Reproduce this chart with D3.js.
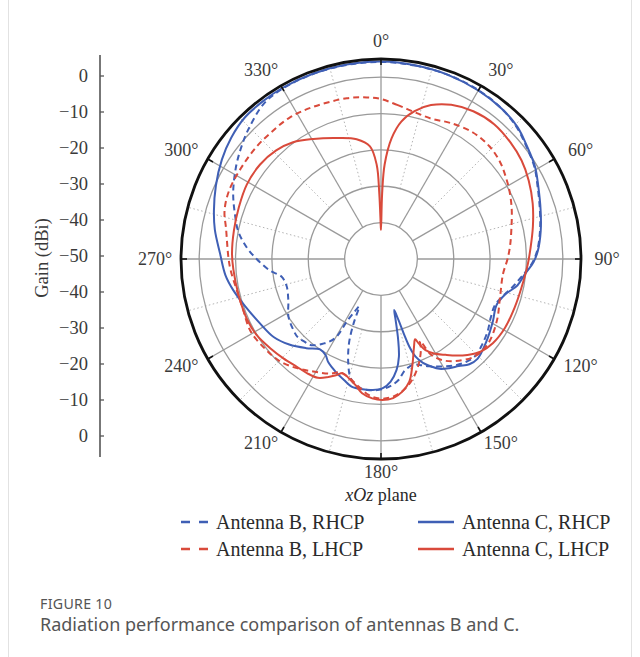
<!DOCTYPE html>
<html>
<head>
<meta charset="utf-8">
<script src="https://cdn.jsdelivr.net/npm/d3@7"></script>
<style>
  html, body { margin: 0; padding: 0; background: #fff; }
  svg { display: block; }
</style>
</head>
<body>
<svg id="chart" width="640" height="657"></svg>
<script>
// ---------- data (angle in degrees, gain in dBi) ----------
const angleLabels = [0, 30, 60, 90, 120, 150, 180, 210, 240, 270, 300, 330];
const ringGains = [-40, -30, -20, -10, 0];
const gainTickLabels = ["0", "\u221210", "\u221220", "\u221230", "\u221240", "\u221250", "\u221240", "\u221230", "\u221220", "\u221210", "0"];

const antCRhcp = [[0,4.3],[10,4.1],[20,3.9],[30,3.5],[39,3.0],[46,2.2],[52,0.8],[59,-0.6],[65,-2.3],[73,-4.1],[80,-5.4],[87,-6.8],[91,-8],[96,-10.2],[101,-11.8],[106,-14.5],[112,-15.8],[119,-14.8],[128,-13.2],[136,-11.8],[140,-12.2],[144,-13.6],[148,-14.6],[152,-15.8],[155,-17.4],[158,-19.2],[160.5,-21.5],[162,-24.5],[163,-28.5],[164,-32.5],[165.5,-35.5],[166.5,-32.8],[168,-27.3],[169.6,-22.7],[172,-19.2],[175.5,-16.2],[179.4,-14.4],[184,-13.9],[188,-13.8],[193,-14],[197,-15.2],[202,-16.6],[207,-18.1],[210,-19.5],[214,-20],[220,-18],[227,-15.5],[234,-13.5],[242,-12.3],[251,-10.4],[258,-8.5],[264,-7],[272,-5.7],[280,-3.6],[286,-2.2],[294,-0.3],[302,1.6],[309,3.0],[316,4.0],[323,4.2],[330,4.3],[340,4.3],[350,4.3]];

const antBRhcp = [[0,4.2],[10,4.0],[20,3.9],[30,3.6],[39,3.0],[46,2.0],[52,0.6],[59,-0.8],[65,-2.5],[73,-4.3],[80,-5.6],[87,-7],[92,-8.6],[97,-11],[102,-13],[107,-15],[112,-16.2],[118,-15.8],[124,-14.6],[130,-13.6],[136,-12.8],[141,-13.4],[146,-14.6],[151,-16.2],[156,-17.7],[160,-19],[163,-19.6],[166,-19.2],[168.5,-18.4],[171.5,-16.5],[175.6,-15],[179.4,-14.2],[185,-13.8],[190.5,-14.3],[194.3,-16.2],[197.4,-19.9],[200.8,-25.2],[203,-30.6],[204.8,-35.6],[206.5,-34],[208.7,-30.4],[210,-25],[214,-22],[219,-19.5],[223,-19],[227,-18.6],[231,-19],[238,-20],[246,-22.1],[254,-23],[260,-22.2],[264,-19.3],[270,-15.8],[275,-12.9],[281,-10],[287,-8],[294,-5.5],[302,-2.9],[308,-1],[314,0.9],[323,3.5],[330,4.1],[340,4.2],[350,4.2]];

const antBLhcp = [[0,-6],[6,-7.4],[13,-8.6],[20,-9],[27,-8],[36,-7],[44,-7],[51,-7.8],[57,-9],[62,-10],[69,-11.5],[77,-13.2],[84,-14.3],[90,-15.2],[97,-16.2],[108,-15.6],[118,-13.9],[128,-12.5],[136,-12.8],[144,-15.3],[149,-17.6],[152.5,-20.5],[154.5,-25],[156,-23],[160,-19.5],[165,-16],[170,-13.5],[175,-12],[180,-11.6],[185,-12.4],[190,-14.4],[195,-16.2],[200,-16.8],[204,-15.5],[211,-13.9],[218,-12],[225,-10.4],[232,-9.7],[241,-9],[250,-9.6],[258,-9.4],[266,-8.5],[271,-8],[281,-6.6],[287,-5.0],[294,-4.2],[303,-4.1],[312,-3.9],[319,-3.9],[327,-3.7],[336,-4.2],[348,-4.8],[355,-5.4]];

const antCLhcp = [[0,-42],[1,-32],[2.2,-24],[5,-16.7],[8.4,-11.8],[12.8,-8.3],[18,-5.5],[24.5,-3.4],[32,-2.1],[40,-1.6],[48,-2.1],[55,-2.8],[62,-4],[70,-5.6],[78,-7.3],[86,-8.8],[92,-9.6],[102,-10.6],[110,-10.9],[119,-11],[127,-11.5],[133,-12.6],[138,-14.5],[142,-16.3],[146,-18.2],[150.7,-20.2],[154,-22.1],[156,-24.6],[157,-26],[159.4,-24.2],[163.8,-19.2],[167,-15.4],[171,-13],[175,-11.6],[179.5,-11.2],[183.6,-11.6],[188,-12.7],[191.4,-14.6],[195,-16],[198.5,-16.9],[201,-15.8],[204,-14.5],[208,-13],[213,-12.6],[218,-12.4],[224.5,-11.7],[231,-10.9],[238.6,-9.9],[246,-9.6],[256,-9.6],[266,-9.3],[272,-9],[281,-8.8],[290,-8.4],[299,-7.8],[308,-7.8],[316,-8.5],[323,-9.8],[330.6,-12.1],[340,-14.6],[348.5,-16.4],[354.4,-18.9],[357.4,-24.1],[358.5,-32],[359.6,-41]];

const seriesNames = ["Antenna B, RHCP", "Antenna C, RHCP", "Antenna B, LHCP", "Antenna C, LHCP"];
const seriesData = [antBRhcp, antCRhcp, antBLhcp, antCLhcp];
const seriesColors = ["#3f5fb5", "#3f5fb5", "#d94a3b", "#d94a3b"];
const seriesDashed = [true, false, true, false];

// ---------- layout ----------
const svg = d3.select("#chart");
const cx = 381, cy = 259, outerR = 200;
const r = d3.scaleLinear().domain([-50, 5]).range([0, outerR]).clamp(true);
const rad = d => d * Math.PI / 180;
const serif = "'Liberation Serif', 'Times New Roman', serif";
const sans = "'Noto Sans', 'Open Sans', sans-serif";

// card border
svg.append("rect").attr("x", 8.5).attr("y", -2).attr("width", 623).attr("height", 662)
  .attr("fill", "none").attr("stroke", "#e2e2e2");

const g = svg.append("g").attr("transform", `translate(${cx},${cy})`);

// dotted spokes (odd multiples of 15°)
const dotted = d3.range(15, 360, 30);
g.selectAll(".dspoke").data(dotted).join("line")
  .attr("x1", d => r(-30) * Math.sin(rad(d))).attr("y1", d => -r(-30) * Math.cos(rad(d)))
  .attr("x2", d => outerR * Math.sin(rad(d))).attr("y2", d => -outerR * Math.cos(rad(d)))
  .attr("stroke", "#b4b4b4").attr("stroke-width", 1).attr("stroke-dasharray", "1.5,2.5");

// solid spokes
g.selectAll(".spoke").data(angleLabels).join("line")
  .attr("x1", d => r(-40) * Math.sin(rad(d))).attr("y1", d => -r(-40) * Math.cos(rad(d)))
  .attr("x2", d => outerR * Math.sin(rad(d))).attr("y2", d => -outerR * Math.cos(rad(d)))
  .attr("stroke", "#9a9a9a").attr("stroke-width", 1.3);

// rings
g.selectAll(".ring").data(ringGains).join("circle")
  .attr("r", d => r(d)).attr("fill", "none").attr("stroke", "#9a9a9a").attr("stroke-width", 1.3);

// curves
const line = d3.lineRadial()
  .angle(d => rad(d[0]))
  .radius(d => r(d[1]))
  .curve(d3.curveCatmullRomClosed.alpha(0.5));

seriesData.forEach((data, i) => {
  g.append("path").attr("d", line(data))
    .attr("fill", "none").attr("stroke", seriesColors[i]).attr("stroke-width", 2)
    .attr("stroke-dasharray", seriesDashed[i] ? "6,4" : null)
    .attr("stroke-linejoin", "round");
});

// outer circle + ticks
g.append("circle").attr("r", outerR).attr("fill", "none").attr("stroke", "#111").attr("stroke-width", 2.8);
g.selectAll(".otick").data(angleLabels).join("line")
  .attr("x1", d => (outerR - 6) * Math.sin(rad(d))).attr("y1", d => -(outerR - 6) * Math.cos(rad(d)))
  .attr("x2", d => outerR * Math.sin(rad(d))).attr("y2", d => -outerR * Math.cos(rad(d)))
  .attr("stroke", "#111").attr("stroke-width", 1.6);

// angle labels
const lx = d => { const s = Math.sin(rad(d)), c = Math.cos(rad(d)); return (outerR + 26) * s + 8 * Math.sign(Math.round(s * 1000)) * Math.abs(c); };
const ly = d => { const c = Math.cos(rad(d)); return -(c >= 0 ? outerR + 18 : outerR + 13) * c; };
g.selectAll(".alab").data(angleLabels).join("text")
  .attr("x", d => lx(d))
  .attr("y", d => ly(d))
  .attr("text-anchor", "middle").attr("dominant-baseline", "central")
  .attr("font-family", serif).attr("font-size", 18).attr("fill", "#3a3a3a")
  .text(d => d + "\u00b0");

// x label
const xl = svg.append("text").attr("x", cx).attr("y", 501).attr("text-anchor", "middle")
  .attr("font-family", serif).attr("font-size", 18).attr("fill", "#2a2a2a");
xl.append("tspan").attr("font-style", "italic").text("xOz");
xl.append("tspan").text(" plane");

// gain axis
const gy = d3.scaleLinear().domain([0, gainTickLabels.length - 1]).range([76, 436]);
const ax = svg.append("g").attr("transform", "translate(100,0)");
ax.append("line").attr("x1", 0).attr("x2", 0).attr("y1", 55).attr("y2", 457)
  .attr("stroke", "#555").attr("stroke-width", 1.6);
ax.selectAll(".gt").data(gainTickLabels).join("line")
  .attr("x1", 0).attr("x2", 4).attr("y1", (d, i) => gy(i)).attr("y2", (d, i) => gy(i))
  .attr("stroke", "#555").attr("stroke-width", 1.3);
ax.selectAll(".gl").data(gainTickLabels).join("text")
  .attr("x", -12).attr("y", (d, i) => gy(i)).attr("dominant-baseline", "central")
  .attr("text-anchor", "end").attr("font-family", serif).attr("font-size", 18.5).attr("fill", "#3a3a3a")
  .text(d => d);
svg.append("text").attr("transform", "translate(42,258) rotate(-90)")
  .attr("text-anchor", "middle").attr("dominant-baseline", "central")
  .attr("font-family", serif).attr("font-size", 18.5).attr("fill", "#3a3a3a").text("Gain (dBi)");

// legend
const legX = [181, 418], legY = [522, 549];
seriesNames.forEach((name, i) => {
  const col = i % 2, row = Math.floor(i / 2);
  const x0 = legX[col], y0 = legY[row];
  const len = seriesDashed[i] ? 27 : 36;
  svg.append("line").attr("x1", x0).attr("x2", x0 + len).attr("y1", y0).attr("y2", y0)
    .attr("stroke", seriesColors[i]).attr("stroke-width", 2.4)
    .attr("stroke-dasharray", seriesDashed[i] ? "9,9" : null);
  svg.append("text").attr("x", seriesDashed[i] ? x0 + 35 : x0 + 44).attr("y", y0).attr("dominant-baseline", "central")
    .attr("font-family", serif).attr("font-size", 20).attr("fill", "#2a2a2a").text(name);
});

// caption
svg.append("text").attr("x", 40).attr("y", 609).attr("font-family", sans)
  .attr("font-size", 14.2).attr("fill", "#555").attr("letter-spacing", 0.3).text("FIGURE 10");
svg.append("text").attr("x", 40).attr("y", 631).attr("font-family", sans)
  .attr("font-size", 18).attr("fill", "#555").text("Radiation performance comparison of antennas B and C.");
</script>
</body>
</html>
